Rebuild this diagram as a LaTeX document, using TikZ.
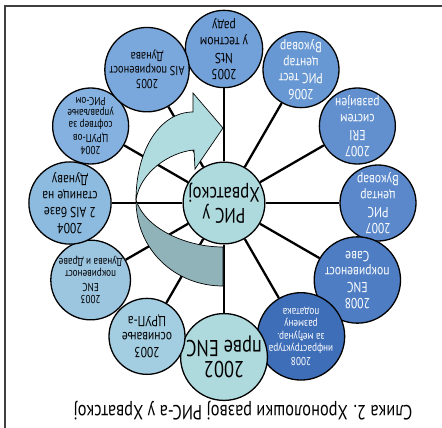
\documentclass[tikz,border=0pt]{standalone}
\usepackage{fontspec}
\setmainfont{PT Sans}[FakeStretch=0.8]
\usetikzlibrary{calc,backgrounds}
\definecolor{cA}{HTML}{AED9DD}
\definecolor{cB}{HTML}{A3CDE0}
\definecolor{cC}{HTML}{9CC5E0}
\definecolor{cD}{HTML}{8DBBE0}
\definecolor{cE}{HTML}{84B1DF}
\definecolor{cF}{HTML}{7BA8DC}
\definecolor{cG}{HTML}{72A0D8}
\definecolor{cH}{HTML}{6898D3}
\definecolor{cI}{HTML}{6290CF}
\definecolor{cJ}{HTML}{5A88CA}
\definecolor{cK}{HTML}{4E7DC3}
\definecolor{cL}{HTML}{3F6EB8}
\definecolor{arrlight}{HTML}{B0DCDF}
\definecolor{arrdark}{HTML}{8FB3B9}
\definecolor{framec}{HTML}{404040}
\tikzset{
  circ/.style={circle, draw=black, line width=1.3pt, minimum size=76pt, inner sep=0pt, align=center, rotate=180},
  big/.style={font=\fontsize{14.5}{15.8}\selectfont},
  small/.style={font=\fontsize{11.5}{12.4}\selectfont},
  spoke/.style={line width=2.3pt, black},
  arrowpart/.style={draw=black, line width=0.7pt},
}
\begin{document}
\begin{tikzpicture}[x=1pt, y=-1pt]
\useasboundingbox (0,0) rectangle (442,428);
\draw[framec, line width=1.2pt] (442,6) -- (5,6) -- (5,428);
\coordinate (C) at (224,203);
\node[circ, fill=cA, font=\fontsize{21}{20.5}\selectfont] (c) at (C) {РИС у\\Хрватској};
\node[circ, big, fill=cG] (n1) at ($(C)+(-90:154)$) {2005\\NtS\\у тестном\\раду};
\node[circ, big, fill=cH, text=white] (n2) at ($(C)+(-60:154)$) {2006\\РИС тест\\центар\\Вуковар};
\node[circ, big, fill=cI, text=white] (n3) at ($(C)+(-30:154)$) {2007\\ERI\\систем\\развијен};
\node[circ, big, fill=cJ, text=white] (n4) at ($(C)+(0:154)$) {2007\\РИС\\центар\\Вуковар};
\node[circ, big, fill=cK, text=white] (n5) at ($(C)+(30:154)$) {2008\\ENC\\покривеност\\Саве};
\node[circ, small, fill=cL, text=white] (n6) at ($(C)+(60:154)$) {2008\\инфраструктура\\за међунар.\\размену\\података};
\node[circ, fill=cA, font=\fontsize{23}{21}\selectfont] (n7) at ($(C)+(90:154)$) {2002\\прве ENC};
\node[circ, big, fill=cB] (n8) at ($(C)+(120:154)$) {2003\\оснивање\\ЦРУП-а};
\node[circ, small, fill=cC] (n9) at ($(C)+(150:154)$) {2003\\ENC\\покривеност\\Дунава и Драве};
\node[circ, big, fill=cD] (n10) at ($(C)+(180:154)$) {2004\\2 AIS базе\\станице на\\Дунаву};
\node[circ, small, fill=cE] (n11) at ($(C)+(210:154)$) {2004\\ЦРУП-ов\\софтвер за\\управљање\\РИС-ом};
\node[circ, fill=cF, font=\fontsize{13}{13.5}\selectfont] (n12) at ($(C)+(240:154)$) {2005\\AIS покривеност\\Дунава};
\begin{scope}[on background layer]
  \foreach \i in {1,...,12} { \draw[spoke] (c) -- (n\i); }
  \path[arrowpart, fill=arrdark] (136,200) .. controls (136,250) and (175,286) .. (223,286) -- (223,247) .. controls (185,247) and (145,228) .. (136,200) -- cycle;
  \path[arrowpart, fill=arrlight] (136,200) .. controls (136,150) and (160,112) .. (193,112) -- (193,93) -- (223,128) -- (195,169) -- (194,150) .. controls (170,152) and (140,172) .. (136,200) -- cycle;
\end{scope}
\node[rotate=180, font=\fontsize{20.5}{20}\selectfont] (cap) at (243,411) {Слика 2. Хронолошки развој РИС-а у Хрватској};
\end{tikzpicture}
\end{document}
